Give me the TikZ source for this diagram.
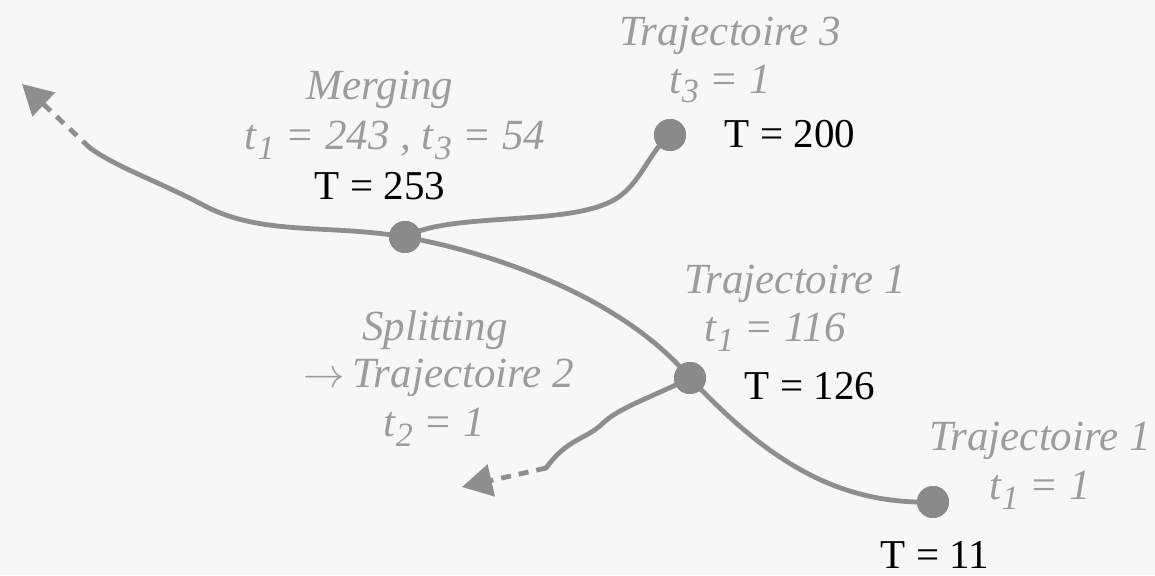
\documentclass[tikz,border=0pt]{standalone}
\usepackage{fontspec}
\setmainfont{Liberation Serif}
\usetikzlibrary{arrows.meta}
\definecolor{linegray}{HTML}{8E8E8E}
\definecolor{dotgray}{HTML}{8A8A8A}
\definecolor{labgray}{HTML}{9C9C9C}
\definecolor{bggray}{HTML}{F7F7F7}
\newcommand{\ssub}[1]{\raisebox{-0.5ex}{\fontsize{17pt}{18pt}\selectfont\kern0.5pt#1}}
\begin{document}
\begin{tikzpicture}[x=0.5pt,y=-0.5pt,
  traj/.style={draw=linegray,line width=2.4pt,line cap=round},
  trajdash/.style={draw=linegray,line width=2.4pt,dash pattern=on 5pt off 4pt,
     -{Triangle[length=15pt,width=16pt,fill=linegray]}},
  dotnode/.style={circle,fill=dotgray,minimum size=16pt,inner sep=0pt},
  ilab/.style={text=labgray,font=\fontsize{21.5pt}{24pt}\selectfont\itshape,inner sep=0pt},
  tlab/.style={text=black,font=\fontsize{20.5pt}{24pt}\selectfont,inner sep=0pt}]
\fill[bggray] (0,0) rectangle (1155,575);
\useasboundingbox (0,0) rectangle (1155,575);
% dots
\node[dotnode] (m) at (405,237) {};
\node[dotnode] (t3) at (670,135) {};
\node[dotnode] (s) at (690,378) {};
\node[dotnode] (st) at (933,502) {};
\coordinate (tl) at (90,148);
\coordinate (tltip) at (22,84);
\coordinate (bl) at (546,468);
\coordinate (bltip) at (462,487);
% curves
\path[traj] (m.center) .. controls (450,212) and (560,226) .. (610,202)
   .. controls (640,188) and (648,152) .. (t3.center);
\path[traj] (m.center) .. controls (330,224) and (262,236) .. (205,206)
   .. controls (160,182) and (118,168) .. (tl);
\path[trajdash] (tl) -- (tltip);
\path[traj] (m.center) .. controls (500,254) and (625,300) .. (s.center);
\path[traj] (s.center) .. controls (760,452) and (830,505) .. (st.center);
\path[traj] (s.center) .. controls (650,398) and (618,408) .. (602,424)
   .. controls (585,440) and (568,438) .. (bl);
\path[trajdash] (bl) -- (bltip);
\node[dotnode] at (m) {};
\node[dotnode] at (t3) {};
\node[dotnode] at (s) {};
\node[dotnode] at (st) {};
% labels
\node[ilab] (l1) at (380,90) {Merging};
\node[ilab] (l2) at (395,140) {t\ssub{1} = 243 , t\ssub{3} = 54};
\node[tlab] (l3) at (380,186) {T = 253};
\node[ilab] (l4) at (730,36) {Trajectoire 3};
\node[ilab] (l5) at (720,84) {t\ssub{3} = 1};
\node[tlab] (l6) at (790,134) {T = 200};
\node[ilab] (l7) at (795,284) {Trajectoire 1};
\node[ilab] (l8) at (775,332) {t\ssub{1} = 116};
\node[tlab] (l9) at (810,386) {T = 126};
\node[ilab] (l10) at (435,330) {Splitting};
\node[ilab] (l11) at (439,378) {$\rightarrow$\,Trajectoire 2};
\node[ilab] (l12) at (434,427) {t\ssub{2} = 1};
\node[ilab] (l13) at (1040,441) {Trajectoire 1};
\node[ilab] (l14) at (1040,490) {t\ssub{1} = 1};
\node[tlab] (l15) at (935,555) {T = 11};
\end{tikzpicture}
\end{document}
